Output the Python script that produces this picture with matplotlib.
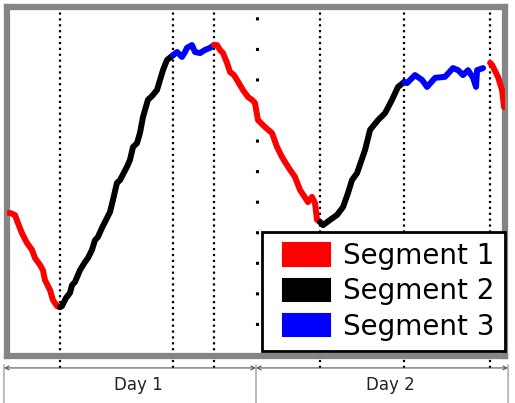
import numpy as np
import matplotlib.pyplot as plt
from matplotlib.patches import Patch, Rectangle
from matplotlib.legend_handler import HandlerPatch

# time in hours, level in arbitrary units
seg1a_t = [0.38, 0.57, 1.05, 1.33, 1.71, 2.19, 2.67, 2.95, 3.43, 3.71, 3.90, 4.38, 4.67, 5.05, 5.33]
seg1a_v = [41.0, 41.0, 40.4, 38.1, 35.2, 32.4, 30.4, 28.1, 26.1, 24.6, 21.8, 18.9, 16.0, 14.3, 14.0]

seg2a_t = [5.33, 5.52, 5.90, 6.29, 6.48, 6.76, 7.24, 7.71, 8.00, 8.38, 8.67, 8.95, 9.33, 9.62, 10.10,
           10.38, 10.76, 11.05, 11.71, 12.00, 12.29, 12.67, 12.95, 13.24, 13.71, 14.10, 14.57, 14.86,
           15.14, 15.52, 16.10]
seg2a_v = [14.0, 14.3, 16.6, 18.1, 20.3, 21.2, 24.6, 26.9, 28.1, 30.4, 33.2, 34.1, 36.7, 38.4, 41.3,
           44.7, 49.6, 50.4, 54.2, 56.2, 59.9, 61.0, 63.9, 68.5, 73.4, 74.5, 76.2, 79.1,
           81.9, 84.8, 86.2]

seg3a_t = [16.10, 16.48, 16.95, 17.24, 17.43, 17.90, 18.19, 18.67, 19.14, 19.62, 20.0]
seg3a_v = [86.2, 87.1, 85.7, 87.1, 88.3, 89.1, 87.1, 86.8, 87.7, 88.3, 89.1]

seg1b_t = [20.0, 20.29, 20.57, 20.86, 21.24, 21.52, 21.90, 22.19, 22.76, 23.24, 23.62, 23.90, 24.19,
           24.86, 25.52, 26.0, 26.48, 27.05, 27.71, 28.19, 28.95, 29.33, 29.62, 29.81, 30.10]
seg1b_v = [89.1, 89.1, 87.7, 86.8, 84.0, 81.4, 80.5, 79.1, 76.2, 74.2, 73.4, 72.5, 67.6,
           65.6, 63.9, 59.9, 57.0, 54.2, 51.3, 47.6, 44.1, 45.6, 43.8, 39.0, 38.4]

seg2b_t = [30.10, 30.38, 31.05, 31.71, 32.29, 32.76, 33.14, 33.62, 34.38, 34.86, 35.62, 36.29,
           36.95, 37.52, 38.10]
seg2b_v = [38.4, 37.5, 39.0, 40.4, 42.7, 46.7, 50.4, 52.4, 59.0, 64.8, 67.6, 69.6,
           73.4, 77.1, 78.5]

seg3b_t = [38.10, 38.38, 39.14, 39.81, 40.29, 41.05, 42.0, 42.76, 43.24, 43.71, 44.19, 44.67,
           44.95, 45.05, 45.62]
seg3b_v = [78.5, 78.2, 80.5, 79.1, 77.1, 79.7, 80.0, 82.5, 81.9, 80.5, 81.9, 79.7,
           77.1, 81.9, 82.5]

seg1c_t = [46.29, 46.48, 47.05, 47.43, 47.62]
seg1c_v = [84.0, 83.4, 79.9, 76.2, 71.3]

marks = [5.33, 16.1, 20.0, 30.1, 38.1, 46.3]
day_split = 24.1
days = ["Day 1", "Day 2"]
day_edges = [0, 24, 48]

colors = {1: "#ff0000", 2: "#000000", 3: "#0000ff"}

fig = plt.figure(figsize=(5.15, 4.03), dpi=100)
ax = fig.add_axes([0.0136, 0.1166, 0.967, 0.866])

lkw = dict(lw=4.3, solid_capstyle="round", solid_joinstyle="round", zorder=3)
ax.plot(seg1a_t, seg1a_v, color=colors[1], **lkw)
ax.plot(seg2a_t, seg2a_v, color=colors[2], **lkw)
ax.plot(seg3a_t, seg3a_v, color=colors[3], **lkw)
ax.plot(seg1b_t, seg1b_v, color=colors[1], **lkw)
ax.plot(seg2b_t, seg2b_v, color=colors[2], **lkw)
ax.plot(seg3b_t, seg3b_v, color=colors[3], **lkw)
ax.plot(seg1c_t, seg1c_v, color=colors[1], **lkw)

for m in marks:
    ax.axvline(m, ymin=-0.034, ymax=0.985, color="k", ls=":", lw=1.6, clip_on=False, zorder=1)
ax.axvline(day_split, ymin=0.0, ymax=0.985, color="k", ls=(0, (1, 9)), lw=2.2, zorder=1)

ax.set_xlim(0.29, 47.71)
ax.set_ylim(0, 100)
ax.set_xticks([])
ax.set_yticks([])
for s in ax.spines.values():
    s.set_color("#858585")
    s.set_linewidth(4.5)

# day brackets under the axes
for i, d in enumerate(days):
    ax.annotate("", xy=(day_edges[i], 0.087), xytext=(day_edges[i + 1], 0.087),
                xycoords=("data", "figure fraction"), textcoords=("data", "figure fraction"),
                arrowprops=dict(arrowstyle="<->", color="#555555", lw=0.8, shrinkA=0, shrinkB=0,
                                mutation_scale=7),
                annotation_clip=False)
    ax.annotate(d, xy=((day_edges[i] + day_edges[i + 1]) / 2 + 0.8, 0.045),
                xycoords=("data", "figure fraction"), ha="center", va="center",
                fontsize=12, color="#222222", annotation_clip=False)
for e in day_edges:
    ax.annotate("", xy=(e, 0.0), xytext=(e, 0.095),
                xycoords=("data", "figure fraction"), textcoords=("data", "figure fraction"),
                arrowprops=dict(arrowstyle="-", color="#888888", lw=0.8, shrinkA=0, shrinkB=0),
                annotation_clip=False)


def swatch(legend, orig_handle, xdescent, ydescent, width, height, fontsize):
    w = 1.7 * fontsize
    return Rectangle((-xdescent + width - w, -ydescent), w, height)


handles = [Patch(facecolor=colors[k], edgecolor=colors[k], linewidth=1.5, joinstyle="round")
           for k in (1, 2, 3)]
leg = ax.legend(handles, ["Segment 1", "Segment 2", "Segment 3"], loc="lower right",
                bbox_to_anchor=(1.0, 0.014), borderaxespad=0, fontsize=20,
                handlelength=2.05, handleheight=0.85, handletextpad=0.47,
                labelspacing=0.26, borderpad=0.38, fancybox=False, framealpha=1,
                handler_map={Patch: HandlerPatch(patch_func=swatch)})
leg.get_frame().set_edgecolor("k")
leg.get_frame().set_linewidth(2)
leg.set_zorder(5)

fig.savefig("out.png", dpi=100)
